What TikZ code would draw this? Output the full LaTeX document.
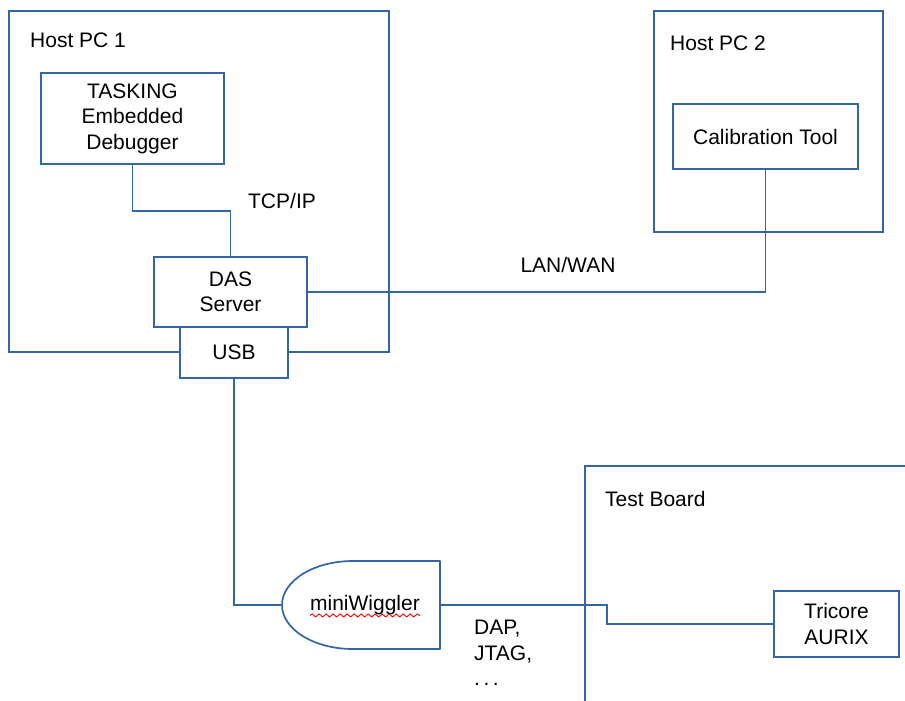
\documentclass[tikz,border=0pt]{standalone}
\usepackage{fontspec}
\setmainfont{Liberation Sans}
\usetikzlibrary{decorations.pathmorphing}
\definecolor{linkblue}{HTML}{3465A4}
\tikzset{
  unitbox/.style={draw=linkblue, line width=1.7pt, fill=white, inner sep=0pt, align=center},
  hostbox/.style={draw=linkblue, line width=1.7pt, inner sep=0pt},
  wire/.style={linkblue, line width=1.7pt},
  boxlabel/.style={anchor=west, inner sep=0pt}
}
\begin{document}
\begin{tikzpicture}[x=1pt, y=-1pt, font=\fontsize{21}{25.5}\selectfont]
\useasboundingbox (0,0) rectangle (905,701);
% host machines
\node[hostbox, minimum width=380pt, minimum height=341pt] (host1) at (199,181.5) {};
\node[boxlabel] (host1label) at (30,40) {Host PC 1};
\node[hostbox, minimum width=229pt, minimum height=221pt] (host2) at (768.5,121.5) {};
\node[boxlabel] (host2label) at (670,43) {Host PC 2};
% test board (open to the right and below)
\draw[wire] (905,466) -- (585,466) -- (585,701);
\node[boxlabel] (boardlabel) at (605,499) {Test Board};
% units
\node[unitbox, minimum width=183pt, minimum height=91pt] (tasking) at (132.5,118.5) {TASKING\\Embedded\\Debugger};
\node[unitbox, minimum width=153pt, minimum height=70pt] (das) at (230.5,292) {DAS\\Server};
\node[unitbox, minimum width=108pt, minimum height=51pt] (usb) at (234,352.5) {USB};
\node[unitbox, minimum width=185pt, minimum height=65pt] (calib) at (765.5,136.5) {Calibration Tool};
\node[unitbox, minimum width=125pt, minimum height=66pt] (tricore) at (836.5,624) {Tricore\\AURIX};
% miniWiggler probe
\coordinate (mwl) at (282,605);
\coordinate (mwr) at (440,605);
\draw[wire, line join=round] (440,561) -- (353,561)
  arc[start angle=90, end angle=270, x radius=71pt, y radius=44pt] -- (440,649) -- cycle;
\node[inner sep=0pt] (mwtext) at (365,605) {miniWiggler};
\draw[red, line width=0.9pt, decorate, decoration={snake, amplitude=1.5pt, segment length=7pt}]
  ([yshift=-5pt]mwtext.base west) -- ([yshift=-5pt]mwtext.base east);
% connections
\draw[wire] (tasking.south) -- ++(0,46) -| (das.north);
\draw[wire] (das.east) -| (calib.south);
\draw[wire] (usb.south) |- (mwl);
\draw[wire] (mwr) -- ++(167,0) |- (tricore.west);
% link labels
\node (tcplabel) at (282,201) {TCP/IP};
\node (lanlabel) at (568,265) {LAN/WAN};
\node[anchor=north west, inner sep=0pt, align=left] (daplabel) at (474,620) {DAP,\\JTAG,\\ .\,.\,.};
\end{tikzpicture}
\end{document}
